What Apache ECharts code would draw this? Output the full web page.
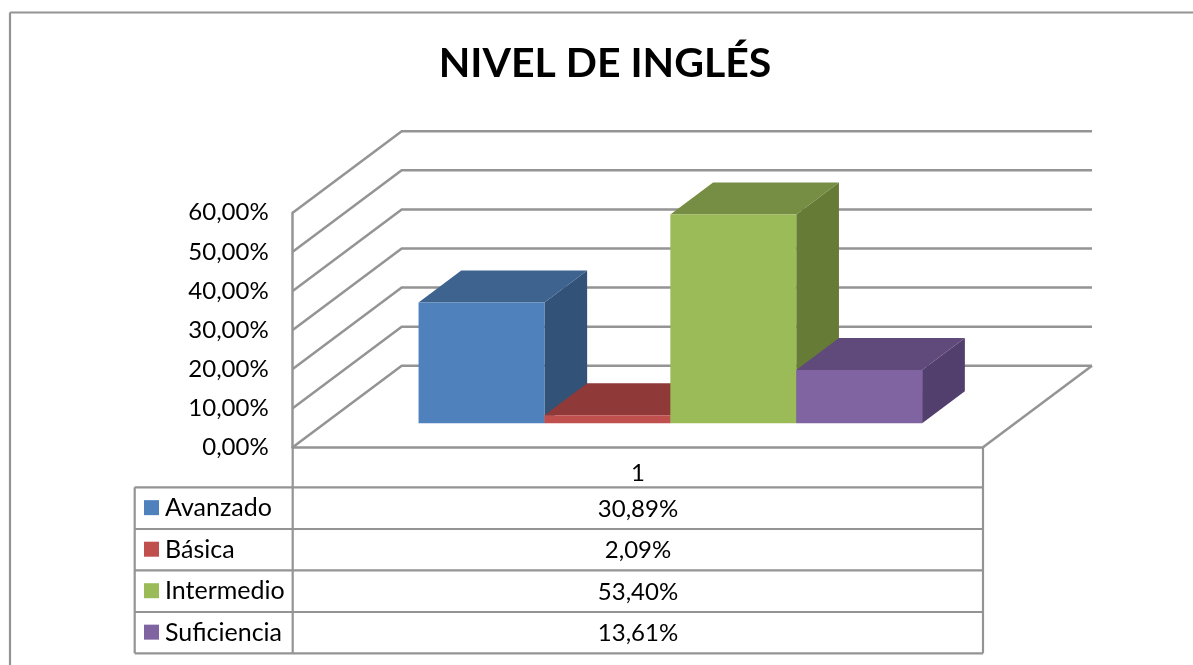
<!DOCTYPE html>
<html><head><meta charset="utf-8">
<style>html,body{margin:0;padding:0;background:#fff}#c{width:1193px;height:665px}</style>
<script src="https://cdn.jsdelivr.net/npm/echarts@6/dist/echarts.min.js"></script>
</head><body><div id="c"></div>
<script>
const chartTitle = 'NIVEL DE INGLÉS';
const categoryLabels = ['1'];
const seriesNames = ['Avanzado', 'Básica', 'Intermedio', 'Suficiencia'];
const seriesValues = [30.89, 2.09, 53.40, 13.61];
const yTicks = [0, 10, 20, 30, 40, 50, 60];
const frontColors = ['#4f81bd', '#c0504d', '#9bbb59', '#8064a2'];
const topColors = ['#3f638f', '#8f3a38', '#768e43', '#604a7b'];
const sideColors = ['#325278', '#7a2f2d', '#657b36', '#533f6d'];

const FONT = 'Lato, Carlito, "Open Sans", sans-serif';
const LINE = '#949494';
const TXT = '#000000';
const fmt = v => v.toFixed(2).replace('.', ',') + '%';

const G = {left: 292.7, top: 212.7, width: 690.3, height: 234.6};
const WALL = {dx: 109, dy: -81.5};
const BAR = {w: 125.9, dx: 42.7, dy: -32, floorDy: -24, shift: 32.5};

const chart = echarts.init(document.getElementById('c'), null, {renderer: 'canvas'});

function wallItem(params, api) {
  const p = api.coord([0, api.value(0)]);
  const xL = G.left, xR = G.left + G.width, y = p[1];
  const shape = {points: [[xL, y], [xL + WALL.dx, y + WALL.dy], [xR + WALL.dx, y + WALL.dy]]};
  const children = [{type: 'polyline', shape, style: {stroke: LINE, lineWidth: 2.5, fill: null}}];
  if (api.value(0) === 0) {
    children.push({type: 'line', shape: {x1: xR, y1: y, x2: xR + WALL.dx, y2: y + WALL.dy},
      style: {stroke: LINE, lineWidth: 2.5}});
  }
  return {type: 'group', children};
}
function barItem(i) {
  return function (params, api) {
    const v = api.value(1);
    const c = api.coord([0, v]), b = api.coord([0, 0]);
    const x0 = c[0] + BAR.shift + (i - 2) * BAR.w, x1 = x0 + BAR.w;
    const yB = b[1] + BAR.floorDy, yT = c[1] + BAR.floorDy;
    const d = BAR;
    return {type: 'group', children: [
      {type: 'polygon', shape: {points: [[x1, yT], [x1 + d.dx, yT + d.dy], [x1 + d.dx, yB + d.dy], [x1, yB]]},
        style: {fill: sideColors[i]}},
      {type: 'polygon', shape: {points: [[x0, yT], [x0 + d.dx, yT + d.dy], [x1 + d.dx, yT + d.dy], [x1, yT]]},
        style: {fill: topColors[i]}},
      {type: 'rect', shape: {x: x0, y: yT, width: d.w, height: yB - yT}, style: {fill: frontColors[i]}}
    ]};
  };
}

// data table
const T = {left: 134.7, mid: 292.7, right: 983, rows: [487.3, 529, 570.4, 612, 653.3], valueX: 638};
const graphics = [];
const hl = (x1, y1, x2, y2, w) => ({type: 'line', shape: {x1, y1, x2, y2}, style: {stroke: LINE, lineWidth: w || 2.2}, silent: true});
graphics.push(hl(10, 12.5, 1193, 12.5), hl(10, 12.5, 10, 665));
T.rows.forEach(y => graphics.push(hl(T.left, y, T.right, y)));
graphics.push(hl(T.left, T.rows[0], T.left, T.rows[4]), hl(T.mid, 447, T.mid, T.rows[4]), hl(T.right, 447, T.right, T.rows[4]));
seriesNames.forEach((n, i) => {
  const yc = (T.rows[i] + T.rows[i + 1]) / 2;
  graphics.push({type: 'rect', shape: {x: 144, y: yc - 8, width: 15, height: 15}, style: {fill: frontColors[i]}});
  graphics.push({type: 'text', x: 165, y: yc, style: {text: n, font: '25px ' + FONT, fill: TXT, textVerticalAlign: 'middle', textAlign: 'left'}});
  graphics.push({type: 'text', x: T.valueX, y: yc + 1, style: {text: fmt(seriesValues[i]), font: '24px ' + FONT, fill: TXT, textVerticalAlign: 'middle', textAlign: 'center'}});
});

chart.setOption({
  animation: false,
  backgroundColor: '#ffffff',
  title: {text: chartTitle, left: 600, top: 38, textAlign: 'center',
    textStyle: {fontFamily: FONT, fontSize: 41, fontWeight: 'bold', color: '#000'}},
  grid: {left: G.left, top: G.top, width: G.width, height: G.height},
  xAxis: {type: 'category', data: categoryLabels,
    axisLine: {show: true, lineStyle: {color: LINE, width: 2.5}}, axisTick: {show: false},
    axisLabel: {margin: 14, fontFamily: FONT, fontSize: 24, color: TXT}},
  yAxis: {type: 'value', min: 0, max: 60, interval: 10,
    axisLine: {show: true, lineStyle: {color: LINE, width: 2.5}}, axisTick: {show: false},
    splitLine: {show: false},
    axisLabel: {margin: 24, fontFamily: FONT, fontSize: 24, color: TXT, padding: [6, 0, 0, 0], formatter: v => fmt(v)}},
  series: [
    {type: 'custom', name: 'walls', silent: true, clip: false, z: 1, renderItem: wallItem,
      data: yTicks.map(t => [t]), encode: {y: 0}},
    ...seriesNames.map((n, i) => ({type: 'custom', name: n, clip: false, z: 2 + i, renderItem: barItem(i),
      data: [[0, seriesValues[i]]], encode: {x: 0, y: 1}}))
  ],
  graphic: graphics
});
</script></body></html>
